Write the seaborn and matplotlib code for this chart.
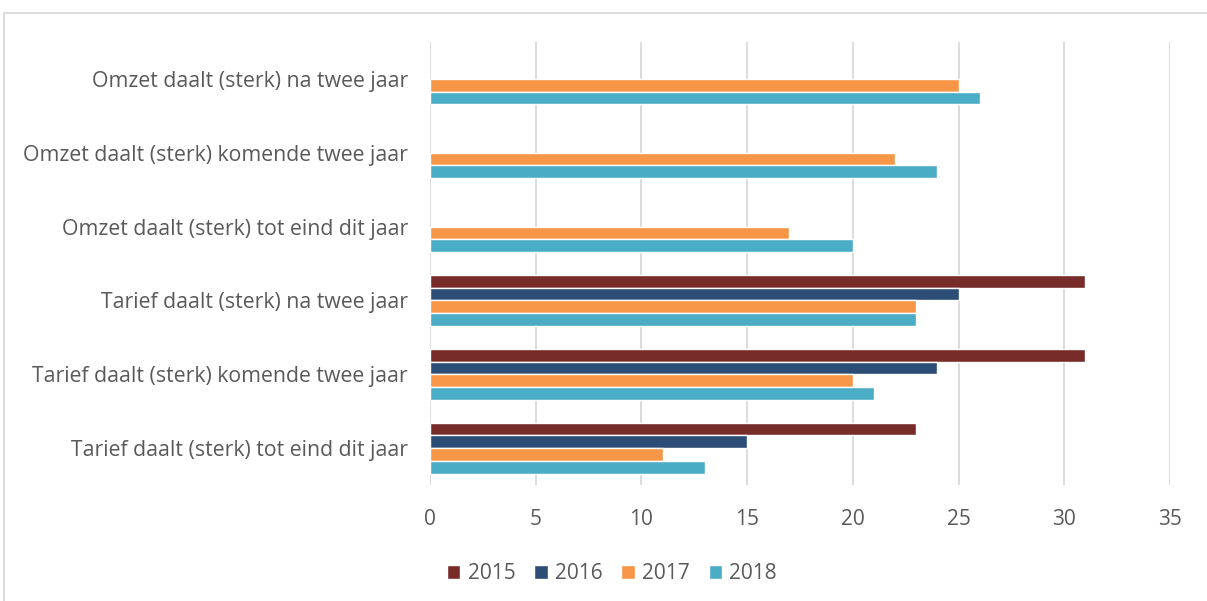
import matplotlib
matplotlib.use("Agg")
import matplotlib.pyplot as plt
import seaborn as sns
import numpy as np
import pandas as pd
from matplotlib.patches import Rectangle

# categories, top to bottom
categories = [
    "Omzet daalt (sterk) na twee jaar",
    "Omzet daalt (sterk) komende twee jaar",
    "Omzet daalt (sterk) tot eind dit jaar",
    "Tarief daalt (sterk) na twee jaar",
    "Tarief daalt (sterk) komende twee jaar",
    "Tarief daalt (sterk) tot eind dit jaar",
]
years = ["2015", "2016", "2017", "2018"]

v2015 = [np.nan, np.nan, np.nan, 31, 31, 23]
v2016 = [np.nan, np.nan, np.nan, 25, 24, 15]
v2017 = [25, 22, 17, 23, 20, 11]
v2018 = [26, 24, 20, 23, 21, 13]

colors = ["#772C2A", "#2C4D75", "#F79646", "#4BACC6"]

rows = []
for yr, vals in zip(years, [v2015, v2016, v2017, v2018]):
    for cat, v in zip(categories, vals):
        rows.append({"categorie": cat, "jaar": yr, "waarde": v})
df = pd.DataFrame(rows)

sns.set_style("white")
plt.rcParams["font.family"] = ["Open Sans", "DejaVu Sans"]

fig = plt.figure(figsize=(12.07, 6.01), dpi=100)
ax = fig.add_axes([0.3563, 0.193, 0.613, 0.7371])

sns.barplot(data=df, y="categorie", x="waarde", hue="jaar", hue_order=years,
            order=categories, palette=colors, width=0.69, saturation=1,
            orient="h", ax=ax)

ax.set_xlim(0, 35)
ax.set_xticks(range(0, 36, 5))
ax.set_xlabel("")
ax.set_ylabel("")
ax.grid(axis="x", color="#D9D9D9", linewidth=1.3)
ax.set_axisbelow(True)
for s in ax.spines.values():
    s.set_visible(False)
ax.tick_params(axis="both", length=0, labelsize=15, colors="#595959")
ax.tick_params(axis="x", pad=17)
ax.tick_params(axis="y", pad=16)
for lab in ax.get_yticklabels():
    lab.set_fontsize(15.3)

handles, labels = ax.get_legend_handles_labels()
ax.legend_.remove()
fig.legend(handles, labels, loc="center", bbox_to_anchor=(0.507, 0.045), ncol=4,
           frameon=False, fontsize=15, labelcolor="#595959",
           handlelength=0.65, handleheight=0.65, handletextpad=0.35, columnspacing=0.9)

# chart frame
fig.patches.append(Rectangle((0.003, -0.05), 1.1, 1.028,
                             transform=fig.transFigure, fill=False,
                             edgecolor="#D9D9D9", linewidth=1.3))

fig.savefig("out.png", dpi=100)
